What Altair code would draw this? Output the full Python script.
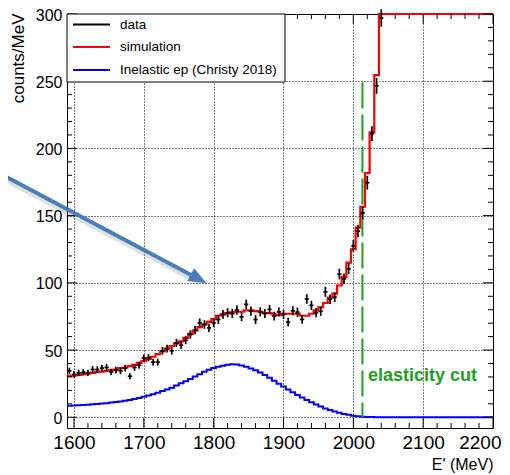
import altair as alt
import pandas as pd

# ---------------- data ----------------
bin_w = 20.0 / 3.0
x_start = 1590.0
x_end = 2200.0

# simulation histogram (counts/MeV per bin, 92 bins)
sim_vals = [30.8, 31.0, 31.5, 32.0, 32.5, 33.0, 33.5, 34.0, 34.5, 35.0,
            35.5, 36.5, 37.0, 38.0, 39.0, 40.4, 42.0, 43.5, 45.0, 47.0,
            49.0, 51.0, 53.0, 55.0, 56.5, 59.0, 62.0, 64.5, 67.0, 69.0,
            71.0, 73.0, 75.5, 76.5, 77.5, 78.0, 78.5, 78.5, 79.5, 79.5,
            79.0, 78.5, 77.5, 77.5, 76.5, 76.0, 77.0, 77.0, 77.0, 77.0,
            75.5, 75.5, 77.0, 79.5, 82.0, 85.0, 89.0, 92.0, 98.0, 104.5,
            115.0, 125.0, 141.0, 156.6, 181.7, 212.0, 254.6, 300.0, 300.0, 300.0,
            300.0, 300.0, 300.0, 300.0, 300.0, 300.0, 300.0, 300.0, 300.0, 300.0,
            300.0, 300.0, 300.0, 300.0, 300.0, 300.0, 300.0, 300.0, 300.0, 300.0,
            300.0, 300.0]

# inelastic ep (Christy 2018) histogram, 92 bins
inel_vals = [8.6, 8.7, 8.9, 9.1, 9.3, 9.6, 9.9, 10.2, 10.5, 10.9,
             11.3, 11.8, 12.2, 12.8, 13.5, 14.3, 15.3, 16.2, 17.2, 18.3,
             19.5, 20.7, 22.0, 23.6, 25.2, 26.8, 28.5, 30.3, 32.0, 33.8,
             35.3, 36.6, 37.6, 38.4, 39.0, 39.4, 39.2, 38.5, 37.5, 36.3,
             35.0, 33.3, 31.4, 29.3, 27.2, 25.0, 22.8, 20.7, 18.6, 16.6,
             14.6, 12.8, 11.1, 9.5, 8.0, 6.6, 5.4, 4.3, 3.3, 2.5,
             1.8, 1.2, 0.7, 0.4, 0.2, 0.1, 0.0, 0.0, 0.0, 0.0,
             0.0, 0.0, 0.0, 0.0, 0.0, 0.0, 0.0, 0.0, 0.0, 0.0,
             0.0, 0.0, 0.0, 0.0, 0.0, 0.0, 0.0, 0.0, 0.0, 0.0,
             0.0, 0.0]

# measured data (bin centres, first 68 bins)
data_vals = [34.5, 31.8, 33.0, 33.5, 33.0, 35.5, 35.5, 36.5, 37.0, 33.7,
             35.0, 34.5, 36.5, 30.5, 37.0, 38.7, 44.0, 44.4, 41.0, 41.0,
             49.4, 51.0, 49.4, 55.3, 53.6, 57.3, 61.6, 64.8, 70.2, 69.0,
             66.5, 70.2, 72.7, 76.5, 77.7, 77.2, 79.7, 74.7, 84.0, 78.9,
             72.7, 78.4, 77.2, 80.2, 75.2, 78.4, 76.5, 70.8, 79.2, 78.2,
             72.8, 88.0, 83.2, 77.8, 78.8, 93.3, 87.8, 89.3, 106.5, 103.0,
             110.5, 127.5, 138.5, 152.0, 174.5, 211.0, 246.5, 297.0]
data_errs = [2.4, 2.4, 2.4, 2.4, 2.4, 2.5, 2.5, 2.5, 2.5, 2.4,
             2.5, 2.5, 2.5, 2.3, 2.5, 2.6, 2.7, 2.7, 2.6, 2.6,
             2.8, 2.9, 2.8, 3.0, 2.9, 3.0, 3.1, 3.1, 3.2, 3.2,
             3.1, 3.2, 3.3, 3.3, 3.4, 3.4, 3.4, 3.3, 3.5, 3.4,
             3.3, 3.4, 3.4, 3.4, 3.3, 3.4, 3.4, 3.2, 3.4, 3.4,
             3.3, 3.6, 3.5, 3.4, 3.4, 3.7, 3.6, 3.6, 4.0, 3.9,
             4.1, 4.4, 4.6, 4.8, 5.1, 5.5, 5.9, 6.5]

x_major = [1600, 1700, 1800, 1900, 2000, 2100, 2200]
y_major = [0, 50, 100, 150, 200, 250, 300]

cut_E = 2013.0
cut_top = 249.0
cut_label = "elasticity cut"

legend_labels = ["data", "simulation", "Inelastic ep (Christy 2018)"]
legend_colors = ["#000000", "#ff0000", "#0000ff"]

# arrow annotation (data units)
arrow_start = (1493.0, 181.7)
arrow_tip_center = (1778.5, 102.9)

# ---------------- tables ----------------
n_bins = len(sim_vals)
edges = [x_start + i * bin_w for i in range(n_bins)] + [x_end]
hist_df = pd.DataFrame({
    "E": edges,
    "sim": sim_vals + [sim_vals[-1]],
    "inel": inel_vals + [inel_vals[-1]],
})

centers = [x_start + (i + 0.5) * bin_w for i in range(len(data_vals))]
pts_df = pd.DataFrame({
    "E": centers,
    "v": data_vals,
    "lo": [v - e for v, e in zip(data_vals, data_errs)],
    "hi": [v + e for v, e in zip(data_vals, data_errs)],
    "El": [c - 3.0 for c in centers],
    "Er": [c + 3.0 for c in centers],
})

x_minor = [v for v in range(1600, 2201, 20) if v % 100 != 0]
y_minor = [v for v in range(0, 301, 10) if v % 50 != 0]
xmaj_df = pd.DataFrame({"E": x_major})
xmin_df = pd.DataFrame({"E": x_minor})
ymaj_df = pd.DataFrame({"v": y_major})
ymin_df = pd.DataFrame({"v": y_minor})

W, H = 426, 414
xs = alt.Scale(domain=[x_start, x_end], nice=False, zero=False)
ys = alt.Scale(domain=[-8, 300], nice=False, zero=False)

FONT = "Liberation Sans"

x_axis = alt.Axis(values=x_major, format="d", title="E' (MeV)", grid=True,
                  gridDash=[1, 2], gridColor="#000000", gridOpacity=1,
                  domain=False, ticks=False, tickSize=0, labelPadding=5,
                  labelFont="Liberation Sans Narrow, Liberation Sans", labelFontSize=19,
                  labelColor="#000000", labelFlush=1, labelFlushOffset=8,
                  titleFont=FONT, titleFontSize=16, titleFontWeight="normal",
                  titleColor="#000000", titleX=W, titleY=28, titleAlign="right",
                  titleBaseline="top")
y_axis = alt.Axis(values=y_major, format="d", title="counts/MeV", grid=True,
                  gridDash=[1, 2], gridColor="#000000", gridOpacity=1,
                  domain=False, ticks=False, tickSize=0, labelPadding=5,
                  labelOffset=1, labelFont=FONT, labelFontSize=16,
                  labelColor="#000000", labelFlush=False,
                  titleFont=FONT, titleFontSize=17, titleFontWeight="normal",
                  titleColor="#000000", titleX=-49, titleY=-1, titleAngle=270,
                  titleAlign="right", titleBaseline="middle")


def X(field):
    return alt.X(field, type="quantitative", scale=xs, axis=x_axis)


def Y(field):
    return alt.Y(field, type="quantitative", scale=ys, axis=y_axis)


inel = alt.Chart(hist_df).mark_line(interpolate="step-after", color="#0000ff",
                                     strokeWidth=2).encode(x=X("E"), y=Y("inel"))
sim = alt.Chart(hist_df).mark_line(interpolate="step-after", color="#ff0000",
                                    strokeWidth=2.2).encode(x=X("E"), y=Y("sim"))

cut_df = pd.DataFrame({"E": [cut_E], "top": [cut_top], "bot": [0.0]})
cut = alt.Chart(cut_df).mark_rule(color="#1ea01e", strokeWidth=2,
                                   strokeDash=[26, 6]).encode(
    x=X("E"), y=Y("top"), y2="bot:Q")
cut_txt_df = pd.DataFrame({"E": [2021.0], "v": [31.0], "t": [cut_label]})
cut_txt = alt.Chart(cut_txt_df).mark_text(align="left", baseline="middle",
                                          font=FONT, fontSize=18, fontWeight="bold",
                                          color="#1ea01e").encode(
    x=X("E"), y=Y("v"), text="t:N")

err_v = alt.Chart(pts_df).mark_rule(color="#000000", strokeWidth=1.7).encode(
    x=X("E"), y=Y("lo"), y2="hi:Q")
err_h = alt.Chart(pts_df).mark_rule(color="#000000", strokeWidth=1.7).encode(
    x=X("El"), x2="Er:Q", y=Y("v"))


# inward ROOT-style ticks
def xticks(df, length):
    bot = alt.Chart(df).mark_rule(color="#000000", strokeWidth=1).encode(
        x=X("E"), y=alt.value(H), y2=alt.value(H - length))
    top = alt.Chart(df).mark_rule(color="#000000", strokeWidth=1).encode(
        x=X("E"), y=alt.value(0), y2=alt.value(length))
    return [bot, top]


def yticks(df, length):
    left = alt.Chart(df).mark_rule(color="#000000", strokeWidth=1).encode(
        y=Y("v"), x=alt.value(0), x2=alt.value(length))
    right = alt.Chart(df).mark_rule(color="#000000", strokeWidth=1).encode(
        y=Y("v"), x=alt.value(W), x2=alt.value(W - length))
    return [left, right]


tick_layers = xticks(xmaj_df, 10) + xticks(xmin_df, 5) + yticks(ymaj_df, 10) + yticks(ymin_df, 5)

# legend (drawn by hand, ROOT style)
one = pd.DataFrame({"a": [0]})
leg_box = alt.Chart(one).mark_rect(fill="#ffffff", stroke="#000000", strokeWidth=1).encode(
    x=alt.value(0), x2=alt.value(218), y=alt.value(0), y2=alt.value(68))
leg_layers = [leg_box]
row_y = [10.5, 33.0, 56.0]
for lab, col, ry in zip(legend_labels, legend_colors, row_y):
    leg_layers.append(alt.Chart(one).mark_rule(color=col, strokeWidth=2).encode(
        x=alt.value(6), x2=alt.value(43), y=alt.value(ry)))
    leg_layers.append(alt.Chart(one).mark_text(
        text=lab, align="left", baseline="middle", font=FONT, fontSize=13.5,
        color="#000000").encode(x=alt.value(53), y=alt.value(ry)))

# arrow annotation (with a soft shadow)
arr_df = pd.DataFrame({"x0": [arrow_start[0]], "y0": [arrow_start[1]],
                       "x1": [arrow_tip_center[0]], "y1": [arrow_tip_center[1]],
                       "y0s": [arrow_start[1] - 2.2], "y1s": [arrow_tip_center[1] - 2.2]})
arrow_shadow = alt.Chart(arr_df).mark_rule(color="#000000", opacity=0.12, strokeWidth=6).encode(
    x=X("x0"), y=Y("y0s"), x2="x1:Q", y2="y1s:Q")
arrow_line = alt.Chart(arr_df).mark_rule(color="#4a7ebb", strokeWidth=4).encode(
    x=X("x0"), y=Y("y0"), x2="x1:Q", y2="y1:Q")
arrow_head = alt.Chart(arr_df).mark_point(
    shape="M-1,-0.8L1,0L-1,0.8Z", filled=True, fill="#4a7ebb", color="#4a7ebb",
    opacity=1, size=324, angle=28).encode(x=X("x1"), y=Y("y1"))

chart = alt.layer(
    inel, sim, cut, cut_txt, err_v, err_h, *tick_layers, *leg_layers,
    arrow_shadow, arrow_line, arrow_head,
).properties(
    width=W, height=H,
    autosize=alt.AutoSizeParams(type="none"),
    padding={"left": 59, "top": 6, "right": 9, "bottom": 45},
    background="#ffffff",
).configure_view(stroke="#000000", strokeWidth=1)

chart.save("out.html", embed_options={"renderer": "svg", "actions": False})
